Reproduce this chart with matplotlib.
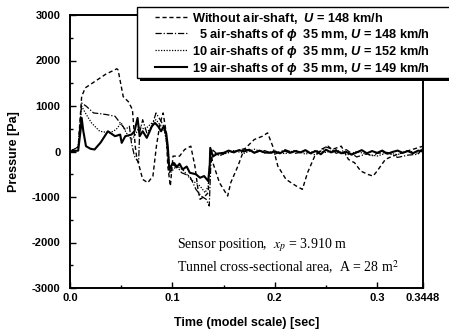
import matplotlib
matplotlib.use("Agg")
import matplotlib.pyplot as plt
from matplotlib.ticker import MultipleLocator
from matplotlib.patches import Rectangle

plt.rcParams['font.family'] = ['Liberation Sans', 'DejaVu Sans']
plt.rcParams['mathtext.fontset'] = 'custom'
plt.rcParams['mathtext.it'] = 'Liberation Sans:italic:bold'
plt.rcParams['mathtext.rm'] = 'Liberation Sans:bold'
plt.rcParams['axes.unicode_minus'] = False

# ---- data ----
t_none = [0, 0.008, 0.0114, 0.015, 0.025, 0.035, 0.0458, 0.047, 0.052, 0.057, 0.061, 0.0637, 0.065,
          0.071, 0.076, 0.081, 0.0844, 0.088, 0.091, 0.094, 0.0955, 0.098, 0.1006, 0.107, 0.112,
          0.118, 0.122, 0.125, 0.127, 0.132, 0.135, 0.137, 0.1396, 0.146, 0.154, 0.157, 0.164,
          0.170, 0.180, 0.188, 0.193, 0.198, 0.203, 0.211, 0.221, 0.227, 0.232, 0.239, 0.245,
          0.252, 0.256, 0.265, 0.272, 0.278, 0.284, 0.291, 0.296, 0.300, 0.308, 0.315, 0.328, 0.3448]
p_none = [0, 100, 1212, 1400, 1550, 1700, 1818, 1790, 1205, 1095, 920, 117, -102,
          -613, -686, -540, 117, 628, 847, 409, -321, -759, -102, -102, 44,
          117, -321, -832, -1050, -978, -905, -30, -250, -686, -978, -686, -321,
          44, 263, 336, 409, 117, -321, -613, -759, -832, -467, -102, 44,
          117, 44, 117, -175, -248, -430, -504, -540, -430, -175, -102, 0, 117]

t_5 = [0, 0.008, 0.0114, 0.016, 0.023, 0.030, 0.036, 0.044, 0.049, 0.054, 0.058, 0.060, 0.063,
       0.067, 0.068, 0.071, 0.075, 0.080, 0.084, 0.088, 0.0916, 0.094, 0.097, 0.102, 0.109,
       0.117, 0.123, 0.128, 0.133, 0.136, 0.1375, 0.1396, 0.146, 0.15, 0.16, 0.17, 0.18, 0.19,
       0.20, 0.21, 0.22, 0.23, 0.24, 0.25, 0.255, 0.26, 0.27, 0.28, 0.29, 0.295, 0.30, 0.31,
       0.32, 0.33, 0.34, 0.3448]
p_5 = [0, 100, 1066, 993, 847, 830, 810, 774, 628, 482, 555, 190, -102,
       -248, 409, 700, 409, 555, 847, 700, 555, 263, -467, -248, -467,
       -540, -832, -978, -1050, -1197, -320, 30, -100, -50, 0, 60, -20, 20,
       -60, 40, -40, 0, -80, 100, 60, -40, 40, -120, -50, -100, -40, -20,
       -130, -80, -60, 100]

t_10 = [0, 0.008, 0.0114, 0.015, 0.021, 0.029, 0.039, 0.045, 0.050, 0.055, 0.060, 0.063, 0.068,
        0.073, 0.080, 0.084, 0.089, 0.0925, 0.096, 0.098, 0.104, 0.110, 0.118, 0.127, 0.132,
        0.135, 0.137, 0.143, 0.15, 0.16, 0.17, 0.18, 0.19, 0.20, 0.21, 0.22, 0.23, 0.24, 0.25,
        0.26, 0.27, 0.28, 0.29, 0.30, 0.31, 0.32, 0.33, 0.34, 0.3448]
p_10 = [0, 100, 993, 847, 628, 445, 409, 482, 628, 409, 263, 336, 555,
        482, 628, 700, 555, 445, -30, -467, -321, -394, -613, -759, -905,
        -759, -100, -30, -60, 20, -40, 50, -30, 10, -50, 30, -60, 20, -20,
        40, -80, 0, -60, -100, -30, -70, 20, -40, 30]

t_19 = [0, 0.008, 0.0105, 0.0114, 0.013, 0.0156, 0.020, 0.024, 0.030, 0.037, 0.044, 0.049, 0.0505,
        0.054, 0.060, 0.063, 0.066, 0.068, 0.071, 0.075, 0.080, 0.083, 0.086, 0.089, 0.0916,
        0.094, 0.0955, 0.097, 0.1006, 0.104, 0.107, 0.110, 0.114, 0.117, 0.123, 0.127, 0.131,
        0.135, 0.1365, 0.137, 0.1396, 0.143, 0.146, 0.15, 0.155, 0.16, 0.165, 0.17, 0.175, 0.18,
        0.185, 0.19, 0.195, 0.2, 0.205, 0.21, 0.215, 0.22, 0.225, 0.23, 0.235, 0.24, 0.245, 0.25,
        0.255, 0.26, 0.265, 0.27, 0.275, 0.28, 0.285, 0.29, 0.295, 0.30, 0.305, 0.31, 0.315, 0.32,
        0.325, 0.33, 0.335, 0.34, 0.3448]
p_19 = [0, 20, 500, 737, 450, 117, 60, 44, 200, 445, 336, 372, 190,
        336, 372, 445, 737, 336, 445, 300, 555, 628, 555, 445, 555,
        400, 117, -394, -248, -350, -270, -394, -330, -467, -500, -577, -540,
        -650, -300, 80, -110, -60, -40, -30, 20, -20, 30, 0, 40, -30,
        20, -20, -30, 0, -40, 20, -30, 10, -20, 30, -40, 10, -60, 40,
        -20, 20, -40, -10, -70, -20, 30, -40, 10, -30, 20, -50, -10, 20,
        -30, 10, -40, 20, 0]

labels = ["Without air-shaft,  $U$ = 148 km/h",
          "  5 air-shafts of $\\phi$  35 mm, $U$ = 148 km/h",
          "10 air-shafts of $\\phi$  35 mm, $U$ = 152 km/h",
          "19 air-shafts of $\\phi$  35 mm, $U$ = 149 km/h"]

xticks = [0.0, 0.1, 0.2, 0.3, 0.3448]
xticklabels = ['0.0', '0.1', '0.2', '0.3', '0.3448']
yticks = [-3000, -2000, -1000, 0, 1000, 2000, 3000]

# ---- figure ----
W, H = 449, 335
fig = plt.figure(figsize=(W / 100, H / 100), dpi=100)
ax = fig.add_axes([70 / W, 1 - 288 / H, 353 / W, 273 / H])

ax.plot(t_none, p_none, color='black', lw=1.0, ls=(0, (3, 2)), label=labels[0])
ax.plot(t_5, p_5, color='black', lw=0.9, ls=(0, (5, 1.5, 1, 1.5)), label=labels[1])
ax.plot(t_10, p_10, color='black', lw=0.9, ls=(0, (1, 1.2)), label=labels[2])
ax.plot(t_19, p_19, color='black', lw=1.5, ls='-', label=labels[3])

ax.set_xlim(0, 0.3448)
ax.set_ylim(-3000, 3000)
ax.set_xticks(xticks)
ax.set_xticklabels(xticklabels)
ax.set_yticks(yticks)
ax.xaxis.set_minor_locator(MultipleLocator(0.05))
ax.yaxis.set_minor_locator(MultipleLocator(500))
ax.tick_params(which='both', direction='in', top=False, right=False, width=1.0)
ax.tick_params(which='major', length=4, labelsize=8)
ax.tick_params(axis='y', which='major', pad=7)
ax.tick_params(which='minor', length=2)
for lbl in ax.get_xticklabels() + ax.get_yticklabels():
    lbl.set_fontweight('bold')
for s in ax.spines.values():
    s.set_linewidth(1.4)

ax.set_xlabel('Time (model scale) [sec]', fontsize=9, fontweight='bold', labelpad=10)
ax.set_ylabel('Pressure [Pa]', fontsize=9, fontweight='bold', labelpad=8)

fig.text(177 / W, 1 - 245 / H, 'Sensor position,  $x_p$ = 3.910 m',
         family='Liberation Serif', fontsize=10, va='center', math_fontfamily='stix')
fig.text(177 / W, 1 - 267 / H, 'Tunnel cross-sectional area,  A = 28 m$^2$',
         family='Liberation Serif', fontsize=10, va='center', math_fontfamily='stix')

# legend frame with shadow (extends past the right edge)
fig.patches.append(Rectangle((140 / W, 1 - 81 / H), 320 / W, 73 / H, transform=fig.transFigure,
                             facecolor='black', edgecolor='none', zorder=3))
fig.patches.append(Rectangle((137 / W, 1 - 78 / H), 320 / W, 71 / H, transform=fig.transFigure,
                             facecolor='white', edgecolor='black', lw=1.0, zorder=3.5))

leg = fig.legend(loc='upper left', bbox_to_anchor=(152 / W, 1 - 8 / H),
                 bbox_transform=fig.transFigure,
                 prop={'weight': 'bold', 'size': 9.2}, frameon=False,
                 handlelength=2.55, handletextpad=0.4, labelspacing=0.08,
                 borderpad=0.2, borderaxespad=0)
leg.set_zorder(5)

fig.savefig('out.png', dpi=100)
